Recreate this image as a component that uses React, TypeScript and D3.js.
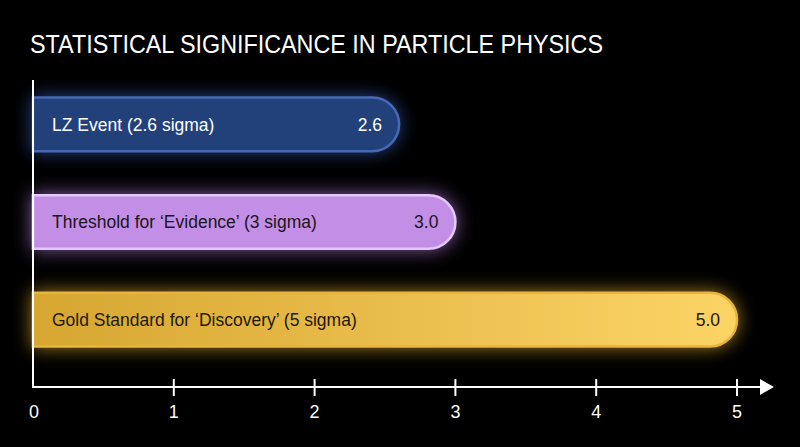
import React from 'react';
import * as d3 from 'd3';

const categories = [
  'LZ Event (2.6 sigma)',
  'Threshold for \u2018Evidence\u2019 (3 sigma)',
  'Gold Standard for \u2018Discovery\u2019 (5 sigma)',
];
const values = [2.6, 3.0, 5.0];
const tickValues = [0, 1, 2, 3, 4, 5];

const fills = ['#233f7a', '#c38fe6', 'url(#goldGrad)'];
const strokes = ['#4668b4', '#e4c8fa', '#e6b53a'];
const glows = ['#3556b0', '#b07ad8', '#d9a52c'];
const textColors = ['#ffffff', '#1a1420', '#1e1808'];

const width = 800;
const height = 447;
const font = "'Liberation Sans', Arial, sans-serif";

export default function App() {
  const x = d3.scaleLinear().domain([0, 5]).range([33, 737]);
  const y = d3.scaleBand().domain(categories).range([78, 366]).paddingInner(0.45).paddingOuter(0.2);
  const axisY = 387;

  const barPath = (v: number, cat: string) => {
    const x0 = x(0);
    const x1 = x(v);
    const y0 = y(cat) as number;
    const h = y.bandwidth();
    const r = h / 2;
    return `M${x0},${y0} L${x1 - r},${y0} A${r},${r} 0 0 1 ${x1 - r},${y0 + h} L${x0},${y0 + h} Z`;
  };

  return (
    <svg
      width={width}
      height={height}
      style={{ position: 'absolute', left: 0, top: 0, background: '#000' }}
    >
      <defs>
        <linearGradient id="goldGrad" x1="0" x2="1" y1="0" y2="0">
          <stop offset="0%" stopColor="#d6a631" />
          <stop offset="100%" stopColor="#fcd466" />
        </linearGradient>
        {glows.map((c, i) => (
          <filter key={i} id={`glow${i}`} x="-20%" y="-80%" width="140%" height="260%">
            <feDropShadow dx="0" dy="0" stdDeviation="9" floodColor={c} floodOpacity="0.75" />
          </filter>
        ))}
      </defs>
      <rect width={width} height={height} fill="#000" />

      <text
        x={30}
        y={53}
        fill="#fff"
        fontFamily={font}
        fontSize={25}
        textLength={573}
        lengthAdjust="spacingAndGlyphs"
      >
        STATISTICAL SIGNIFICANCE IN PARTICLE PHYSICS
      </text>

      {categories.map((cat, i) => {
        const cy = (y(cat) as number) + y.bandwidth() / 2;
        return (
          <g key={cat}>
            <path
              d={barPath(values[i], cat)}
              fill={fills[i]}
              stroke={strokes[i]}
              strokeWidth={2.5}
              filter={`url(#glow${i})`}
            />
            <text
              x={x(0) + 19}
              y={cy}
              dy="0.36em"
              fill={textColors[i]}
              fontFamily={font}
              fontSize={17.5}
            >
              {cat}
            </text>
            <text
              x={x(values[i]) - 17}
              y={cy}
              dy="0.36em"
              textAnchor="end"
              fill={textColors[i]}
              fontFamily={font}
              fontSize={17.5}
            >
              {values[i].toFixed(1)}
            </text>
          </g>
        );
      })}

      {/* axes */}
      <line x1={x(0)} x2={x(0)} y1={80} y2={axisY + 1} stroke="#fff" strokeWidth={2} />
      <line x1={x(0)} x2={763} y1={axisY} y2={axisY} stroke="#fff" strokeWidth={2} />
      <path d={`M760,${axisY - 8} L774,${axisY} L760,${axisY + 8} Z`} fill="#fff" />
      {tickValues.map((t) => (
        <g key={t}>
          {t > 0 && (
            <line x1={x(t)} x2={x(t)} y1={axisY - 8} y2={axisY + 9} stroke="#fff" strokeWidth={2} />
          )}
          <text
            x={x(t) + (t === 0 ? 1 : 0)}
            y={418}
            textAnchor="middle"
            fill="#fff"
            fontFamily={font}
            fontSize={18}
          >
            {t}
          </text>
        </g>
      ))}
    </svg>
  );
}
